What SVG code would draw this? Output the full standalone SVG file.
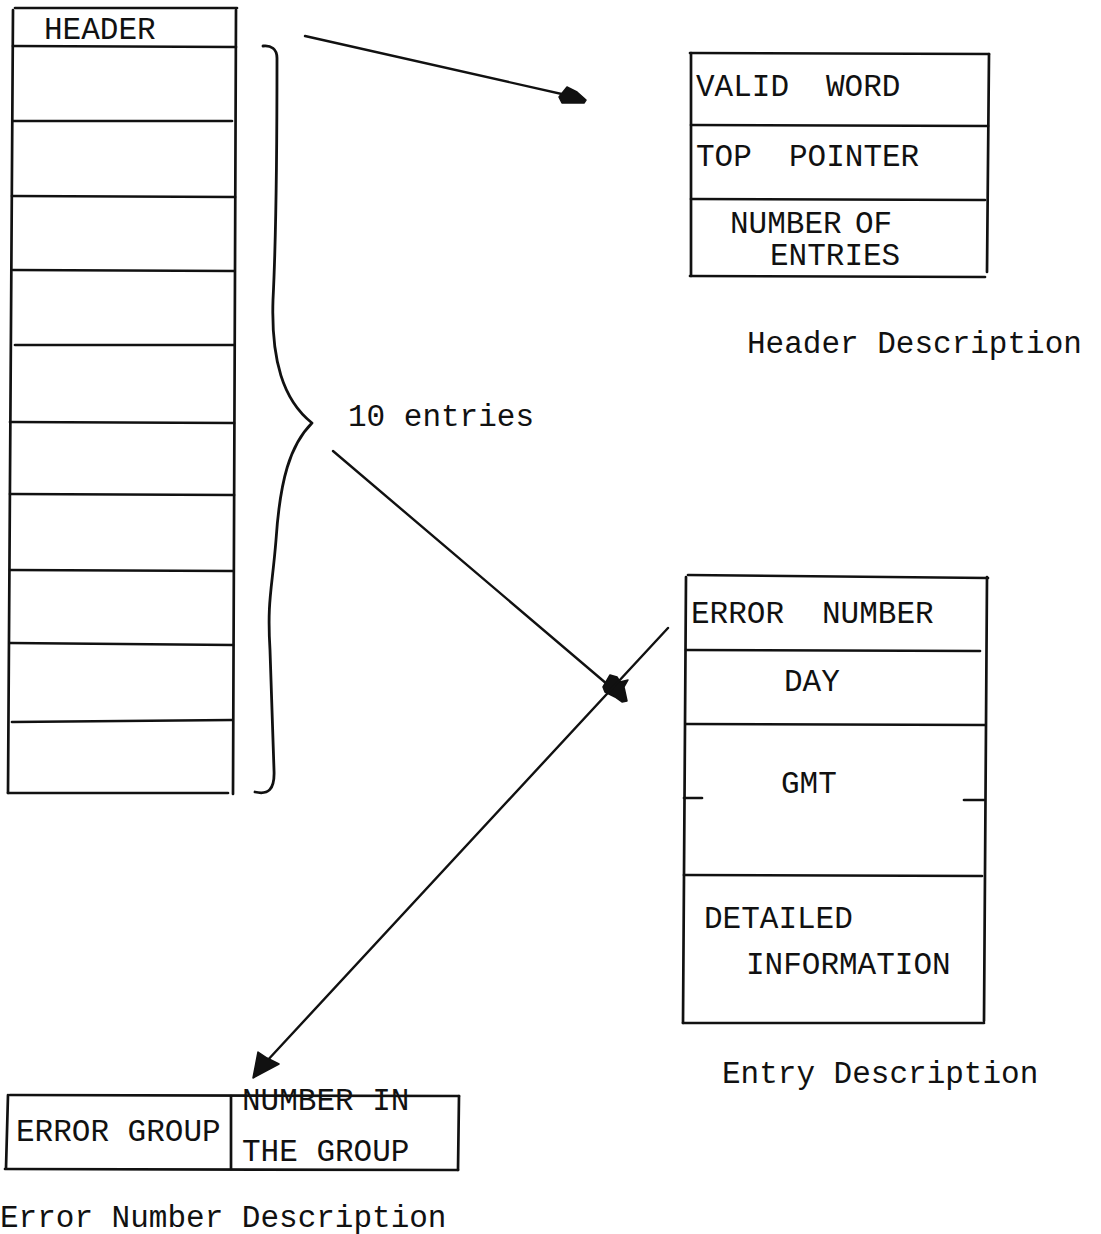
<svg xmlns="http://www.w3.org/2000/svg" width="1101" height="1234" viewBox="0 0 1101 1234">
  <style>
    .ln { stroke: #111; stroke-width: 2.7; fill: none; stroke-linecap: round; }
    .cn { stroke: #111; stroke-width: 2.4; fill: none; stroke-linecap: round; }
    .br { stroke: #111; stroke-width: 2.8; fill: none; stroke-linecap: round; stroke-linejoin: round; }
    .hd { fill: #111; stroke: #111; stroke-width: 1.5; stroke-linejoin: round; }
    text { font-family: "Liberation Mono", "Courier New", monospace; font-size: 31px; fill: #111; }
  </style>
  <rect width="1101" height="1234" fill="#fff"/>

  <!-- error log table: header word plus ten entry slots -->
  <g id="log-table">
    <line class="ln" x1="15" y1="8" x2="237" y2="8"/>
    <line class="ln" x1="13" y1="10" x2="8" y2="793"/>
    <line class="ln" x1="236" y1="10" x2="233" y2="794"/>
    <line class="ln" x1="13" y1="46" x2="236" y2="47"/>
    <line class="ln" x1="13" y1="121" x2="232" y2="121"/>
    <line class="ln" x1="12" y1="196" x2="235" y2="197"/>
    <line class="ln" x1="13" y1="270" x2="234" y2="271"/>
    <line class="ln" x1="15" y1="345" x2="234" y2="345"/>
    <line class="ln" x1="10" y1="422" x2="234" y2="423"/>
    <line class="ln" x1="10" y1="494" x2="234" y2="495"/>
    <line class="ln" x1="10" y1="570" x2="233" y2="571"/>
    <line class="ln" x1="10" y1="643" x2="233" y2="645"/>
    <line class="ln" x1="12" y1="722" x2="232" y2="720"/>
    <line class="ln" x1="8" y1="793" x2="228" y2="793"/>
    <text x="44" y="39">HEADER</text>
  </g>

  <!-- brace grouping the entry slots -->
  <g id="entries-brace">
    <path class="br" d="M 263,46 C 271,45 277,49 277,58 C 277,150 276,240 273,300 C 271,360 283,400 312,423 C 290,445 280,480 276,540 C 272,590 267,600 270,650 L 274,770 C 275,790 268,795 255,792"/>
    <text x="348" y="426">10 entries</text>
  </g>

  <!-- header word layout -->
  <g id="header-description">
    <line class="ln" x1="690" y1="53" x2="989" y2="54"/>
    <line class="ln" x1="691" y1="53" x2="691" y2="276"/>
    <line class="ln" x1="989" y1="54" x2="987" y2="272"/>
    <line class="ln" x1="691" y1="125" x2="988" y2="126"/>
    <line class="ln" x1="691" y1="199" x2="985" y2="200"/>
    <line class="ln" x1="690" y1="276" x2="985" y2="277"/>
    <text y="96"><tspan x="696">VALID</tspan><tspan x="826">WORD</tspan></text>
    <text y="166"><tspan x="696">TOP</tspan><tspan x="789">POINTER</tspan></text>
    <text y="233"><tspan x="730">NUMBER</tspan><tspan x="855">OF</tspan></text>
    <text x="770" y="265">ENTRIES</text>
    <text x="747" y="353">Header Description</text>
  </g>

  <!-- entry layout -->
  <g id="entry-description">
    <line class="ln" x1="688" y1="575" x2="988" y2="578"/>
    <line class="ln" x1="686" y1="577" x2="683" y2="1023"/>
    <line class="ln" x1="987" y1="577" x2="984" y2="1021"/>
    <line class="ln" x1="683" y1="1023" x2="984" y2="1023"/>
    <line class="ln" x1="686" y1="650" x2="980" y2="651"/>
    <line class="ln" x1="686" y1="724" x2="985" y2="725"/>
    <line class="ln" x1="684" y1="875" x2="982" y2="876"/>
    <line class="ln" x1="684" y1="798" x2="702" y2="798"/>
    <line class="ln" x1="964" y1="800" x2="984" y2="800"/>
    <text y="623"><tspan x="691">ERROR</tspan><tspan x="822">NUMBER</tspan></text>
    <text x="784" y="691">DAY</text>
    <text x="781" y="793">GMT</text>
    <text x="704" y="928">DETAILED</text>
    <text x="746" y="974">INFORMATION</text>
    <text x="722" y="1083">Entry Description</text>
  </g>

  <!-- error number layout -->
  <g id="error-number-description">
    <line class="ln" x1="10" y1="1095" x2="459" y2="1096"/>
    <line class="ln" x1="8" y1="1095" x2="6" y2="1168"/>
    <line class="ln" x1="459" y1="1096" x2="458" y2="1170"/>
    <line class="ln" x1="5" y1="1169" x2="458" y2="1170"/>
    <line class="ln" x1="231" y1="1096" x2="231" y2="1169"/>
    <text x="16" y="1141">ERROR GROUP</text>
    <text x="242" y="1110">NUMBER IN</text>
    <text x="242" y="1161">THE GROUP</text>
    <text x="0" y="1227">Error Number Description</text>
  </g>

  <!-- connectors with hand-inked heads -->
  <g id="connectors">
    <line class="cn" x1="305" y1="36" x2="575" y2="97"/>
    <path class="hd" d="M 559,97 L 567,87 L 577,92 L 586,100 L 584,103 L 562,103 Z"/>
    <line class="cn" x1="333" y1="451" x2="614" y2="690"/>
    <path class="hd" d="M 603,687 L 610,675 L 617,677 L 620,682 L 628,680 L 624,687 L 627,701 L 622,702 L 615,697 L 605,692 Z"/>
    <line class="cn" x1="668" y1="628" x2="266" y2="1062"/>
    <path class="hd" d="M 253,1078 L 258,1052 L 267,1058 L 279,1064 Z"/>
  </g>
</svg>
